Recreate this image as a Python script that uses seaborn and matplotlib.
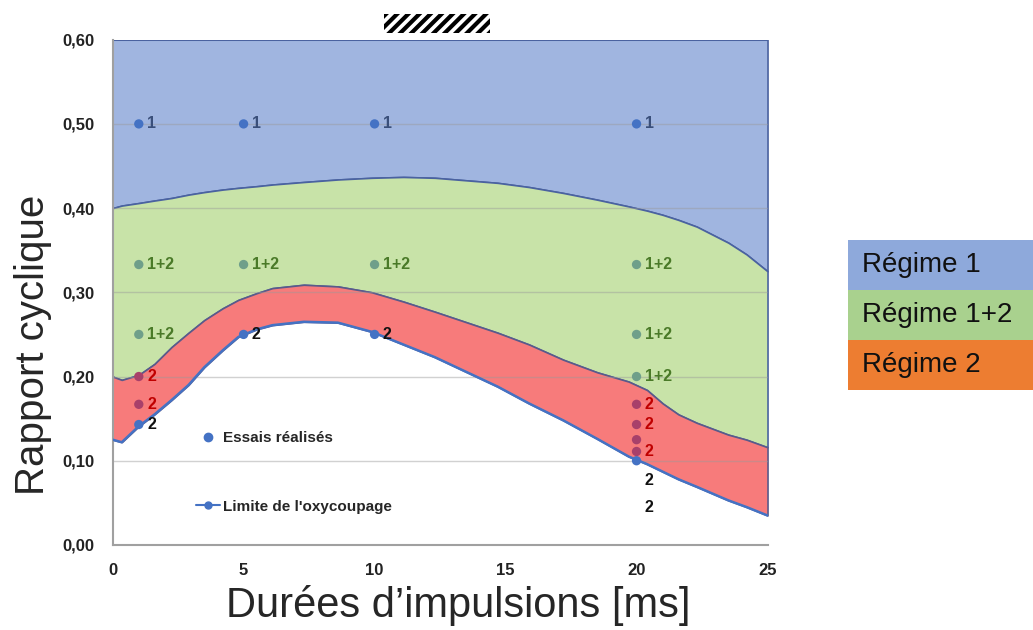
import matplotlib
matplotlib.use("Agg")
import matplotlib.pyplot as plt
from matplotlib.patches import Rectangle
from matplotlib.lines import Line2D
import pandas as pd
import seaborn as sns

# Frontières des régimes
xb = [0, 0.35, 1, 1.6, 2.25, 2.9, 3.5, 4.2, 4.8, 5.5, 6.1, 7.3, 8.6, 9.9, 11.1, 12.3, 14.7, 15.9, 17.2,
      18.5, 19.7, 20.4, 21, 21.6, 22.3, 23.5, 24.2, 25]
haut = [0.40, 0.403, 0.406, 0.409, 0.412, 0.416, 0.419, 0.422, 0.424, 0.426, 0.428, 0.431, 0.434, 0.436,
        0.437, 0.436, 0.430, 0.425, 0.418, 0.410, 0.402, 0.397, 0.392, 0.386, 0.378, 0.359, 0.345, 0.325]
milieu = [0.200, 0.196, 0.202, 0.215, 0.235, 0.252, 0.267, 0.281, 0.291, 0.299, 0.305, 0.309, 0.307, 0.300,
          0.289, 0.277, 0.252, 0.238, 0.220, 0.205, 0.194, 0.184, 0.168, 0.155, 0.145, 0.131, 0.125, 0.116]
limite = [0.125, 0.122, 0.141, 0.155, 0.172, 0.190, 0.211, 0.231, 0.247, 0.256, 0.261, 0.265, 0.264, 0.253,
          0.238, 0.223, 0.188, 0.168, 0.148, 0.126, 0.105, 0.096, 0.087, 0.078, 0.069, 0.053, 0.045, 0.035]
y_max = 0.60

# Essais réalisés
r1_x = [1, 5, 10, 20]
r1_y = [0.5, 0.5, 0.5, 0.5]
r12_x = [1, 5, 10, 20, 1, 20, 20]
r12_y = [0.333, 0.333, 0.333, 0.333, 0.25, 0.25, 0.2]
r2_x = [1, 1, 20, 20, 20, 20]
r2_y = [0.2, 0.167, 0.167, 0.143, 0.125, 0.111]
r2_lab = ["2", "2", "2", "2", "", "2"]
lim_x = [1, 5, 10, 20]
lim_y = [0.143, 0.25, 0.25, 0.1]
lim_lab = ["2", "2", "2", ""]
extra_x = [20, 20]
extra_y = [0.077, 0.044]

regimes = ["Régime 1", "Régime 1+2", "Régime 2"]
regime_colors = ["#8EA9DB", "#A9D18E", "#ED7D31"]

sns.set_style("white")
plt.rcParams["font.family"] = ["Liberation Sans", "DejaVu Sans"]

fig = plt.figure(figsize=(10.33, 6.3), dpi=100)
ax = fig.add_axes([0.109, 0.135, 0.634, 0.802])

edge = "#4a62a0"
ax.fill_between(xb, haut, y_max, facecolor="#A0B5E0", edgecolor=edge, lw=1.2, zorder=1)
ax.fill_between(xb, milieu, haut, facecolor="#C8E3A8", edgecolor=edge, lw=1.2, zorder=1)
ax.fill_between(xb, limite, milieu, facecolor="#F77B7B", edgecolor="#5a5a8a", lw=1.2, zorder=1)

df_lim = pd.DataFrame({"x": xb, "y": limite})
sns.lineplot(data=df_lim, x="x", y="y", ax=ax, color="#4472C4", lw=1.8, zorder=3, sort=False)

for v in [0.1, 0.2, 0.3, 0.4, 0.5]:
    ax.axhline(v, color="#9a9a9a", lw=1, alpha=0.45, zorder=2)

def points(xs, ys, labels, pcol, tcol):
    sns.scatterplot(x=xs, y=ys, ax=ax, color=pcol, s=45, edgecolor="none", zorder=4)
    for xx, yy, lab in zip(xs, ys, labels):
        ax.annotate(lab, (xx, yy), xytext=(6, 0), textcoords="offset points", va="center",
                    ha="left", fontsize=11.5, fontweight="bold", color=tcol, zorder=5)

points(r1_x, r1_y, ["1"] * len(r1_x), "#4472C4", "#3a4f7a")
points(r12_x, r12_y, ["1+2"] * len(r12_x), "#6f9f8a", "#4a7a28")
points(r2_x, r2_y, r2_lab, "#a8406a", "#c00000")
points(lim_x, lim_y, lim_lab, "#4472C4", "#111111")
for xx, yy in zip(extra_x, extra_y):
    ax.annotate("2", (xx, yy), xytext=(6, 0), textcoords="offset points", va="center",
                fontsize=11.5, fontweight="bold", color="#111111")

handles = [Line2D([], [], ls="none", marker="o", color="#4472C4", ms=6),
           Line2D([], [], ls="-", marker="o", color="#4472C4", ms=5, lw=1.5)]
leg = ax.legend(handles, ["Essais réalisés", "Limite de l'oxycoupage"], loc="lower left",
                bbox_to_anchor=(0.106, 0.035), frameon=False, labelspacing=3.55,
                handlelength=1.6, handletextpad=0.2, prop={"weight": "bold", "size": 11})

ax.set_xlim(0, 25)
ax.set_ylim(0, y_max)
ax.set_xticks([0, 5, 10, 15, 20, 25])
ax.set_yticks([0, 0.1, 0.2, 0.3, 0.4, 0.5, 0.6])
ax.set_yticklabels([f"{v:.2f}".replace(".", ",") for v in ax.get_yticks()])
ax.tick_params(axis="both", labelsize=12, colors="#222222", length=5, width=1, pad=8)
ax.tick_params(axis="both", color="#b0b0b0")
for lab in ax.get_xticklabels() + ax.get_yticklabels():
    lab.set_fontweight("bold")
sns.despine(ax=ax)
for s in ["left", "bottom"]:
    ax.spines[s].set_color("#a0a0a0")
    ax.spines[s].set_linewidth(1.5)

ax.set_xlabel("Durées d’impulsions [ms]", fontsize=30)
ax.set_ylabel("Rapport cyclique", fontsize=29)
ax.xaxis.set_label_coords(0.528, -0.08)
ax.yaxis.set_label_coords(-0.093, 0.396)

# bande hachurée au-dessus du graphe
plt.rcParams["hatch.linewidth"] = 3
ax.add_patch(Rectangle((0.415, 1.014), 0.161, 0.036, transform=ax.transAxes, facecolor="white",
                       edgecolor="black", hatch="///", lw=0, clip_on=False))

# légende des régimes à droite
top = 0.619
h = 0.0794
for i, (nom, col) in enumerate(zip(regimes, regime_colors)):
    y0 = top - (i + 1) * h
    fig.add_artist(Rectangle((0.821, y0), 0.179, h, transform=fig.transFigure, facecolor=col, lw=0))
    fig.text(0.834, y0 + h / 2, nom, fontsize=20, va="center", ha="left", color="#111111")

fig.savefig("out.png", dpi=100)
